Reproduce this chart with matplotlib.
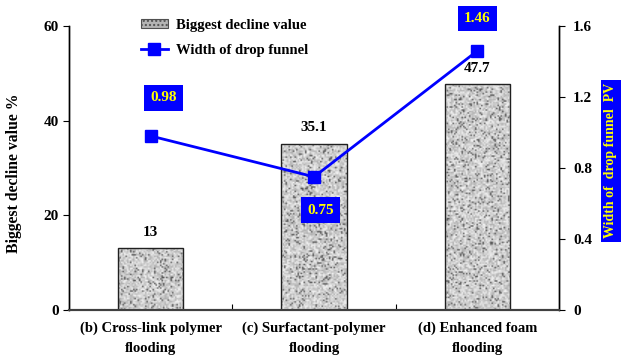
import matplotlib.pyplot as plt
import numpy as np
from matplotlib.lines import Line2D
from matplotlib.patches import Patch

plt.rcParams["font.family"] = ["Liberation Serif", "DejaVu Serif"]
plt.rcParams["font.weight"] = "bold"
plt.rcParams["axes.labelweight"] = "bold"

categories = ["(b) Cross-link polymer\nflooding", "(c) Surfactant-polymer\nflooding", "(d) Enhanced foam\nflooding"]
decline = [13, 35.1, 47.7]
funnel_width = [0.98, 0.75, 1.46]
left_ticks = [0, 20, 40, 60]
right_ticks = [0, 0.4, 0.8, 1.2, 1.6]

fig = plt.figure(figsize=(6.22, 3.6), dpi=100)
ax = fig.add_axes([0.111, 0.139, 0.788, 0.789])
ax2 = ax.twinx()

x = np.arange(len(categories))
bars = ax.bar(x, decline, width=0.4, facecolor="none", edgecolor="#202020", linewidth=1.0, zorder=3)

# speckled grey fill clipped to each bar
rng = np.random.default_rng(7)
for b in bars:
    h = b.get_height()
    ny = max(int(h * 3.2), 4)
    tex = rng.random((ny, 44))
    tex = np.clip(0.8 + 0.3 * (tex - 0.5) - 0.3 * (tex < 0.1), 0, 1)
    im = ax.imshow(tex, cmap="gray", vmin=0, vmax=1, aspect="auto", interpolation="bilinear",
                   extent=[b.get_x(), b.get_x() + b.get_width(), 0, h], zorder=2)
    im.set_clip_path(b)
    ax.text(b.get_x() + b.get_width() / 2, h + 2.0, f"{h:g}", ha="center", va="bottom", fontsize=11)

ax.set_xlim(-0.5, 2.5)
ax.set_ylim(0, 60)
ax.set_yticks(left_ticks)
ax.set_xticks([0.5, 1.5], minor=False)
ax.set_xticklabels([])
ax.tick_params(axis="x", direction="in", length=4)
ax.set_xticks(x, minor=True)
ax.set_xticklabels(categories, minor=True, fontsize=10.5, linespacing=1.75)
ax.tick_params(axis="x", which="minor", length=0, pad=8)
ax.tick_params(axis="y", direction="out", length=4, labelsize=11)
ax.set_ylabel("Biggest decline value %", fontsize=11.3)
ax.yaxis.set_label_coords(-0.096, 0.48)

ax2.plot(x, funnel_width, color="#0000ff", linewidth=2, marker="s", markersize=8, zorder=5)
ax2.set_ylim(0, 1.6)
ax2.set_yticks(right_ticks)
ax2.set_yticklabels(["0", "0.4", "0.8", "1.2", "1.6"])
ax2.tick_params(axis="y", direction="out", length=4, labelsize=11, pad=6)
label_offsets = [(0.08, 0.214), (0.04, -0.187), (0, 0.18)]
for xi, v, (dx, dy) in zip(x, funnel_width, label_offsets):
    ax2.text(xi + dx, v + dy, f"{v:.2f}", ha="center", va="center", color="#ffff00", fontsize=11,
             bbox=dict(boxstyle="square,pad=0.4", facecolor="#0000ff", edgecolor="none"), zorder=6)

fig.text(0.982, 0.553, "Width of  drop funnel  PV", rotation=90, ha="center", va="center",
         color="#ffff00", fontsize=10,
         bbox=dict(boxstyle="square,pad=0.25", facecolor="#0000ff", edgecolor="none"))

for a in (ax, ax2):
    a.spines["top"].set_visible(False)
    a.spines["left"].set_linewidth(1.0)
    a.spines["right"].set_linewidth(1.0)
    a.spines["bottom"].set_linewidth(1.5)
    a.spines["bottom"].set_color("#404040")
ax.set_zorder(ax2.get_zorder() - 1)
ax2.patch.set_visible(False)

handles = [Patch(facecolor="#b4b4b4", edgecolor="#505050", hatch="....", linewidth=0.8),
           Line2D([], [], color="#0000ff", linewidth=2, marker="s", markersize=8)]
fig.legend(handles, ["Biggest decline value", "Width of drop funnel"], loc="upper left",
           bbox_to_anchor=(0.205, 0.985), frameon=False, fontsize=10.5, handlelength=1.9,
           handleheight=0.6, labelspacing=0.85, handletextpad=0.5)

fig.savefig("out.png", dpi=100)
